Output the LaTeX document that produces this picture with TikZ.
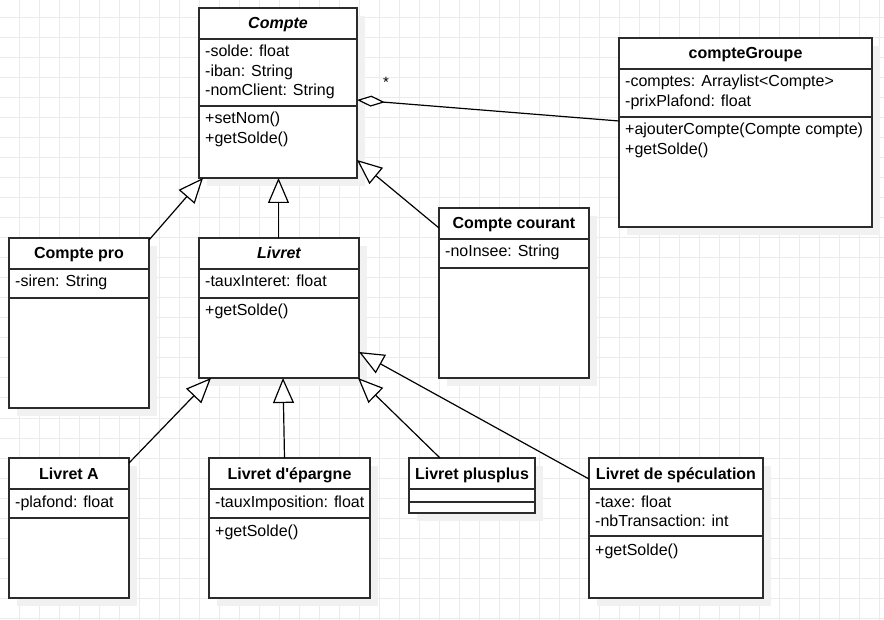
\documentclass[tikz,border=0pt]{standalone}
\usepackage{fontspec}
\setmainfont{Liberation Sans}
\usetikzlibrary{arrows.meta,calc}
\definecolor{gridc}{HTML}{EBEBEB}
\definecolor{shadowc}{HTML}{F1F1F1}
\definecolor{linec}{HTML}{2B2B2B}
\newcommand\umlbox[7]{%
  \fill[shadowc] ({#2+8},{#3+8}) rectangle ({#4+8},{#5+8});
  \pgfmathsetmacro\bw{#4-#2}\pgfmathsetmacro\bh{#5-#3}%
  \node[classbox, minimum width=\bw pt, minimum height=\bh pt] (#1) at (#2,#3) {};
  \draw[sepline] (#2,#6) -- (#4,#6);
  \draw[sepline] (#2,#7) -- (#4,#7);
}
\begin{document}
\begin{tikzpicture}[x=1pt,y=-1pt,
  classbox/.style={draw=linec, line width=1.4pt, fill=white, anchor=north west, inner sep=0pt, outer sep=0pt},
  sepline/.style={draw=linec, line width=1.4pt},
  title/.style={anchor=base, inner sep=0pt, font=\fontsize{16}{19}\selectfont\bfseries},
  ititle/.style={title, font=\fontsize{16}{19}\selectfont\bfseries\itshape},
  attr/.style={anchor=base west, inner sep=0pt, font=\fontsize{16}{19}\selectfont},
  gen/.style={draw=black, line width=1.2pt, -{Triangle[length=25pt, width=21pt, fill=white]}},
  agg/.style={draw=black, line width=1.2pt, {Diamond[length=28pt, width=11pt, fill=white]}-},
]
\useasboundingbox (0,0) rectangle (884,620);
\fill[white] (0,0) rectangle (884,620);
\foreach \x in {19,39,...,879} \draw[gridc, line width=1pt] (\x,0) -- (\x,620);
\foreach \y in {18,38,...,618} \draw[gridc, line width=1pt] (0,\y) -- (884,\y);

% Compte
\umlbox{compte}{199}{8}{357}{178}{39}{106}
\node[ititle] (compte-t) at (278,29) {Compte};
\node[attr] (compte-a1) at (205,57) {-solde: float};
\node[attr] (compte-a2) at (205,76.5) {-iban: String};
\node[attr] (compte-a3) at (205,96) {-nomClient: String};
\node[attr] (compte-m1) at (205,124) {+setNom()};
\node[attr] (compte-m2) at (205,143.5) {+getSolde()};

% compteGroupe
\umlbox{cg}{619}{38}{872}{227}{69}{117}
\node[title] (cg-t) at (745.5,59) {compteGroupe};
\node[attr] (cg-a1) at (625,87) {-comptes: Arraylist\textless Compte\textgreater};
\node[attr] (cg-a2) at (625,106.5) {-prixPlafond: float};
\node[attr] (cg-m1) at (625,135) {+ajouterCompte(Compte compte)};
\node[attr] (cg-m2) at (625,154.5) {+getSolde()};

% Compte pro
\umlbox{cpro}{9}{238}{149}{408}{269}{298}
\node[title] (cpro-t) at (79,259) {Compte pro};
\node[attr] (cpro-a1) at (15,287) {-siren: String};

% Livret
\umlbox{livret}{199}{238}{359}{378}{269}{298}
\node[ititle] (livret-t) at (279,259) {Livret};
\node[attr] (livret-a1) at (205,287) {-tauxInteret: float};
\node[attr] (livret-m1) at (205,316) {+getSolde()};

% Compte courant
\umlbox{ccourant}{439}{208}{589}{378}{239}{268}
\node[title] (ccourant-t) at (514,229) {Compte courant};
\node[attr] (ccourant-a1) at (445,257) {-noInsee: String};

% Livret A
\umlbox{livretA}{9}{458}{129}{598}{489}{518}
\node[title] (livretA-t) at (69,479) {Livret A};
\node[attr] (livretA-a1) at (15,507) {-plafond: float};

% Livret d'epargne
\umlbox{epargne}{209}{458}{370}{598}{489}{518}
\node[title] (epargne-t) at (289.5,479) {Livret d\textquotesingle épargne};
\node[attr] (epargne-a1) at (215,507) {-tauxImposition: float};
\node[attr] (epargne-m1) at (215,536) {+getSolde()};

% Livret plusplus
\umlbox{plusplus}{409}{458}{535}{513}{489}{502}
\node[title] (plusplus-t) at (472,479) {Livret plusplus};

% Livret de speculation
\umlbox{specul}{589}{458}{763}{598}{489}{536}
\node[title] (specul-t) at (676,479) {Livret de spéculation};
\node[attr] (specul-a1) at (595,507) {-taxe: float};
\node[attr] (specul-a2) at (595,526.5) {-nbTransaction: int};
\node[attr] (specul-m1) at (595,555) {+getSolde()};

% Generalizations
\draw[gen] ([yshift=-2pt]cpro.north east) -- ([xshift=4pt]compte.south west);
\draw[gen] ([xshift=-0.5pt]livret.north) -- ([xshift=-0.5pt]livret.north |- compte.south);
\draw[gen] ([yshift=-20pt]ccourant.north west) -- ([yshift=18pt]compte.south east);
\draw[gen] ([yshift=-5pt]livretA.north east) -- ([xshift=12pt]livret.south west);
\draw[gen] ([xshift=-5pt]epargne.north) -- ([xshift=4pt]livret.south);
\draw[gen] ([xshift=-32pt]plusplus.north) -- ([xshift=-1pt]livret.south east);
\draw[gen] ([yshift=-21pt]specul.north west) -- ([yshift=26pt]livret.south east);

% Aggregation
\draw[agg] ([yshift=-7pt]compte.east) -- ([yshift=11.5pt]cg.west);
\node[anchor=base, inner sep=0pt, font=\fontsize{15}{17}\selectfont] (mult) at ([xshift=29pt, yshift=-80pt]compte.north east) {*};
\end{tikzpicture}
\end{document}
